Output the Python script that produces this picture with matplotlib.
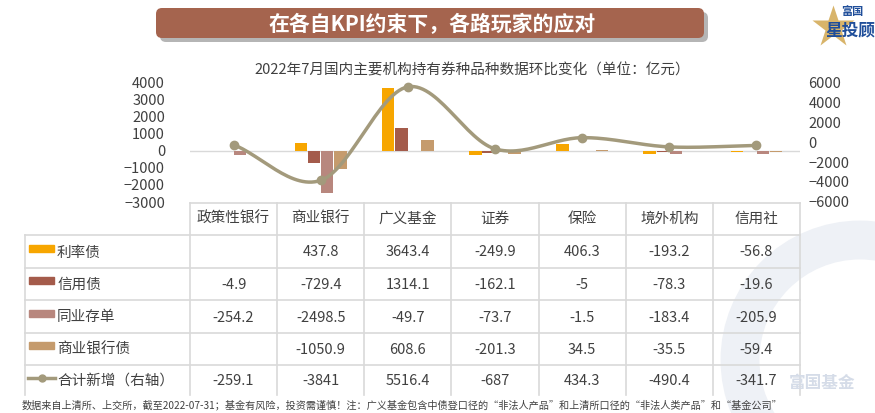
import numpy as np
import matplotlib.pyplot as plt
from matplotlib.patches import FancyBboxPatch, Circle

plt.rcParams['font.family'] = 'Noto Sans CJK SC'

categories = ['政策性银行', '商业银行', '广义基金', '证券', '保险', '境外机构', '信用社']
series_names = ['利率债', '信用债', '同业存单', '商业银行债']
rate_bond = [np.nan, 437.8, 3643.4, -249.9, 406.3, -193.2, -56.8]
credit_bond = [-4.9, -729.4, 1314.1, -162.1, -5, -78.3, -19.6]
ncd = [-254.2, -2498.5, -49.7, -73.7, -1.5, -183.4, -205.9]
bank_bond = [np.nan, -1050.9, 608.6, -201.3, 34.5, -35.5, -59.4]
total = [-259.1, -3841, 5516.4, -687, 434.3, -490.4, -341.7]
line_name = '合计新增（右轴）'

colors = ['#F7A600', '#A45B4B', '#B8877E', '#C59B6D']
line_color = '#A39A7C'
txt = '#404040'
grid = '#D9D9D9'

W, H = 875, 413
fig = plt.figure(figsize=(W / 100, H / 100), dpi=100)

def fx(px): return px / W
def fy(py): return 1 - py / H

# background layer in pixel coordinates
bg = fig.add_axes([0, 0, 1, 1])
bg.set_xlim(0, W); bg.set_ylim(H, 0); bg.axis('off')
bg.add_patch(Circle((860, 360), 120, fill=False, lw=28, ec='#EEF1F6', zorder=0))
bg.text(822, 383, '富国基金', fontsize=12, color='#D5DCE8', ha='center', va='center', fontweight='bold')

# banner
bg.add_patch(FancyBboxPatch((160, 12), 548, 30, boxstyle='round,pad=0,rounding_size=6',
                            fc='#B5B5B5', ec='none', zorder=1))
bg.add_patch(FancyBboxPatch((156, 8), 548, 30, boxstyle='round,pad=0,rounding_size=6',
                            fc='#A5644E', ec='none', zorder=2))
bg.text(432, 24, '在各自KPI约束下，各路玩家的应对', fontsize=15, color='white',
        fontweight='bold', ha='center', va='center', zorder=3)
# logo
bg.plot([833], [27], marker='*', ms=32, color='#D8B46A', mec='none', zorder=1)
bg.text(852, 11, '富国', fontsize=8, color='#1F4E9A', fontweight='bold', ha='center', va='center', zorder=2)
bg.text(850, 30, '星投顾', fontsize=12, color='#1F4E9A', fontweight='bold', ha='center', va='center', zorder=2)
bg.text(472, 70, '2022年7月国内主要机构持有券种品种数据环比变化（单位：亿元）', fontsize=10.5,
        color=txt, ha='center', va='center')

# chart
left, right, top, bottom = 190, 800, 82, 202
ax = fig.add_axes([fx(left), fy(bottom), fx(right - left), (bottom - top) / H])
x = np.arange(len(categories))
bw = 0.15
for i, (vals, c) in enumerate(zip([rate_bond, credit_bond, ncd, bank_bond], colors)):
    ax.bar(x + (i - 1.5) * bw, vals, width=bw * 0.95, color=c, zorder=2)
ax.set_xlim(-0.5, len(categories) - 0.5)
ax.set_ylim(-3000, 4000)
ax.set_yticks(range(-3000, 4001, 1000))
ax.axhline(0, color=grid, lw=1, zorder=1)
ax.set_xticks([])
for s in ax.spines.values():
    s.set_visible(False)
ax.tick_params(axis='y', length=0, labelsize=10.5, labelcolor=txt, pad=18)

ax2 = ax.twinx()
# Catmull-Rom smoothing for the display curve
pts = np.column_stack([x, total]).astype(float)
ext = np.vstack([2 * pts[0] - pts[1], pts, 2 * pts[-1] - pts[-2]])
curve = []
for k in range(1, len(ext) - 2):
    p0, p1, p2, p3 = ext[k - 1], ext[k], ext[k + 1], ext[k + 2]
    for t in np.linspace(0, 1, 30):
        curve.append(0.5 * (2 * p1 + (-p0 + p2) * t + (2 * p0 - 5 * p1 + 4 * p2 - p3) * t ** 2
                            + (-p0 + 3 * p1 - 3 * p2 + p3) * t ** 3))
curve = np.array(curve)
ax2.plot(curve[:, 0], curve[:, 1], color=line_color, lw=2.5, zorder=3)
ax2.plot(x, total, 'o', color=line_color, ms=6, zorder=4)
ax2.set_ylim(-6000, 6000)
ax2.set_yticks(range(-6000, 6001, 2000))
for s in ax2.spines.values():
    s.set_visible(False)
ax2.tick_params(axis='y', length=0, labelsize=10.5, labelcolor=txt, pad=6)

# data table
col_w = (right - left) / len(categories)
row_top = [203, 235, 268, 300, 333, 365]
row_bot = 395
tleft = 25
rows = [rate_bond, credit_bond, ncd, bank_bond, total]
names = series_names + [line_name]
lw = 1.2
bg.plot([left, right], [row_top[0], row_top[0]], color=grid, lw=lw)
for yy in row_top[1:]:
    bg.plot([tleft, right], [yy, yy], color=grid, lw=lw)
for j in range(len(categories) + 1):
    bg.plot([left + j * col_w] * 2, [row_top[0], row_bot], color=grid, lw=lw)
bg.plot([tleft, tleft], [row_top[1], row_bot], color=grid, lw=lw)
for j, c in enumerate(categories):
    bg.text(left + (j + 0.5) * col_w, (row_top[0] + row_top[1]) / 2, c, fontsize=10.5,
            color=txt, ha='center', va='center')
for r, (nm, vals) in enumerate(zip(names, rows)):
    y0 = row_top[r + 1]
    y1 = row_top[r + 2] if r + 2 < len(row_top) else row_bot
    yc = (y0 + y1) / 2
    if r < 4:
        bg.add_patch(plt.Rectangle((29, yc - 7), 25, 7, color=colors[r]))
    else:
        bg.plot([28, 55], [yc - 2, yc - 2], color=line_color, lw=2.5)
        bg.plot([41.5], [yc - 2], 'o', color=line_color, ms=5)
    bg.text(57, yc + 1, nm, fontsize=10.5, color=txt, ha='left', va='center')
    for j, v in enumerate(vals):
        if not np.isnan(v):
            bg.text(left + (j + 0.5) * col_w, yc + 1, f'{v:g}', fontsize=10.5,
                    color=txt, ha='center', va='center')

bg.text(22, 405, '数据来自上清所、上交所，截至2022-07-31；基金有风险，投资需谨慎！注：广义基金包含中债登口径的“非法人产品”和上清所口径的“非法人类产品”和“基金公司”',
        fontsize=7.3, color=txt, ha='left', va='center')

fig.savefig('out.png', dpi=100)
